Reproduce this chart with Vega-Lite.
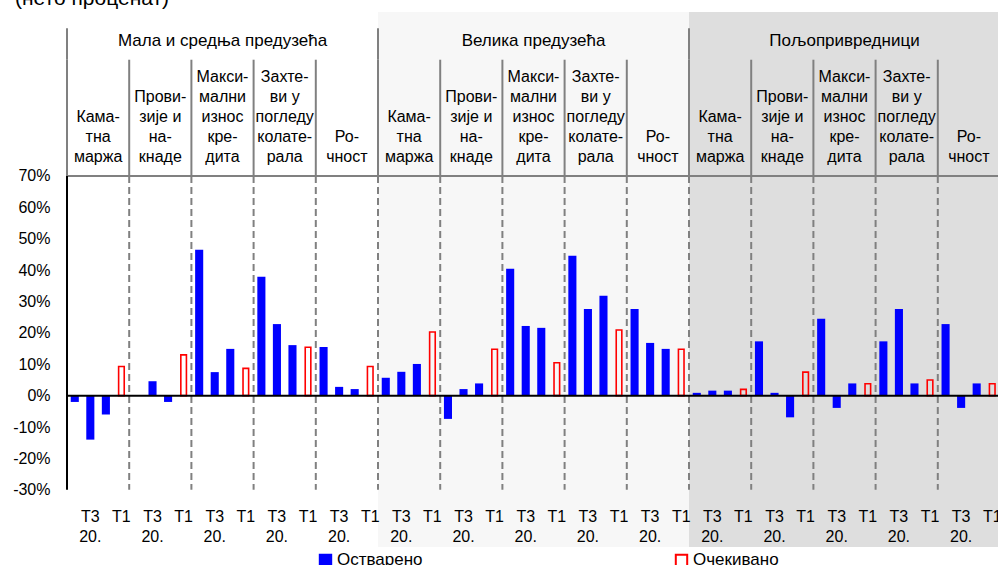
{
  "$schema": "https://vega.github.io/schema/vega-lite/v6.json",
  "width": 933,
  "height": 535,
  "autosize": {"type": "none"},
  "padding": {"left": 67, "top": 12, "right": 0, "bottom": 18},
  "background": "white",
  "title": {"text": "(нето проценат)", "anchor": "start", "frame": "group", "dx": -52, "offset": -13.5, "baseline": "alphabetic", "zindex": 1, "fontSize": 21, "font": "Liberation Sans", "fontWeight": "normal", "color": "#000000"},
  "config": {"view": {"stroke": null}, "font": "Liberation Sans"},
  "datasets": {
    "bars": [
      {"section": 1, "category": 1, "slot": 1, "key": "1-1-1", "type": "Остварено", "period": "", "value": -2},
      {"section": 1, "category": 1, "slot": 2, "key": "1-1-2", "type": "Остварено", "period": "Т3\n20.", "value": -14},
      {"section": 1, "category": 1, "slot": 3, "key": "1-1-3", "type": "Остварено", "period": "", "value": -6},
      {"section": 1, "category": 1, "slot": 4, "key": "1-1-4", "type": "Очекивано", "period": "Т1", "value": 9.3},
      {"section": 1, "category": 2, "slot": 1, "key": "1-2-1", "type": "Остварено", "period": "", "value": 0},
      {"section": 1, "category": 2, "slot": 2, "key": "1-2-2", "type": "Остварено", "period": "Т3\n20.", "value": 4.6},
      {"section": 1, "category": 2, "slot": 3, "key": "1-2-3", "type": "Остварено", "period": "", "value": -2},
      {"section": 1, "category": 2, "slot": 4, "key": "1-2-4", "type": "Очекивано", "period": "Т1", "value": 13},
      {"section": 1, "category": 3, "slot": 1, "key": "1-3-1", "type": "Остварено", "period": "", "value": 46.5},
      {"section": 1, "category": 3, "slot": 2, "key": "1-3-2", "type": "Остварено", "period": "Т3\n20.", "value": 7.5},
      {"section": 1, "category": 3, "slot": 3, "key": "1-3-3", "type": "Остварено", "period": "", "value": 14.9},
      {"section": 1, "category": 3, "slot": 4, "key": "1-3-4", "type": "Очекивано", "period": "Т1", "value": 8.7},
      {"section": 1, "category": 4, "slot": 1, "key": "1-4-1", "type": "Остварено", "period": "", "value": 37.9},
      {"section": 1, "category": 4, "slot": 2, "key": "1-4-2", "type": "Остварено", "period": "Т3\n20.", "value": 22.8},
      {"section": 1, "category": 4, "slot": 3, "key": "1-4-3", "type": "Остварено", "period": "", "value": 16.1},
      {"section": 1, "category": 4, "slot": 4, "key": "1-4-4", "type": "Очекивано", "period": "Т1", "value": 15.4},
      {"section": 1, "category": 5, "slot": 1, "key": "1-5-1", "type": "Остварено", "period": "", "value": 15.5},
      {"section": 1, "category": 5, "slot": 2, "key": "1-5-2", "type": "Остварено", "period": "Т3\n20.", "value": 2.8},
      {"section": 1, "category": 5, "slot": 3, "key": "1-5-3", "type": "Остварено", "period": "", "value": 2.1},
      {"section": 1, "category": 5, "slot": 4, "key": "1-5-4", "type": "Очекивано", "period": "Т1", "value": 9.3},
      {"section": 2, "category": 1, "slot": 1, "key": "2-1-1", "type": "Остварено", "period": "", "value": 5.7},
      {"section": 2, "category": 1, "slot": 2, "key": "2-1-2", "type": "Остварено", "period": "Т3\n20.", "value": 7.6},
      {"section": 2, "category": 1, "slot": 3, "key": "2-1-3", "type": "Остварено", "period": "", "value": 10.1},
      {"section": 2, "category": 1, "slot": 4, "key": "2-1-4", "type": "Очекивано", "period": "Т1", "value": 20.3},
      {"section": 2, "category": 2, "slot": 1, "key": "2-2-1", "type": "Остварено", "period": "", "value": -7.4},
      {"section": 2, "category": 2, "slot": 2, "key": "2-2-2", "type": "Остварено", "period": "Т3\n20.", "value": 2.1},
      {"section": 2, "category": 2, "slot": 3, "key": "2-2-3", "type": "Остварено", "period": "", "value": 3.9},
      {"section": 2, "category": 2, "slot": 4, "key": "2-2-4", "type": "Очекивано", "period": "Т1", "value": 14.8},
      {"section": 2, "category": 3, "slot": 1, "key": "2-3-1", "type": "Остварено", "period": "", "value": 40.4},
      {"section": 2, "category": 3, "slot": 2, "key": "2-3-2", "type": "Остварено", "period": "Т3\n20.", "value": 22.2},
      {"section": 2, "category": 3, "slot": 3, "key": "2-3-3", "type": "Остварено", "period": "", "value": 21.6},
      {"section": 2, "category": 3, "slot": 4, "key": "2-3-4", "type": "Очекивано", "period": "Т1", "value": 10.5},
      {"section": 2, "category": 4, "slot": 1, "key": "2-4-1", "type": "Остварено", "period": "", "value": 44.6},
      {"section": 2, "category": 4, "slot": 2, "key": "2-4-2", "type": "Остварено", "period": "Т3\n20.", "value": 27.6},
      {"section": 2, "category": 4, "slot": 3, "key": "2-4-3", "type": "Остварено", "period": "", "value": 31.8},
      {"section": 2, "category": 4, "slot": 4, "key": "2-4-4", "type": "Очекивано", "period": "Т1", "value": 20.9},
      {"section": 2, "category": 5, "slot": 1, "key": "2-5-1", "type": "Остварено", "period": "", "value": 27.6},
      {"section": 2, "category": 5, "slot": 2, "key": "2-5-2", "type": "Остварено", "period": "Т3\n20.", "value": 16.8},
      {"section": 2, "category": 5, "slot": 3, "key": "2-5-3", "type": "Остварено", "period": "", "value": 14.9},
      {"section": 2, "category": 5, "slot": 4, "key": "2-5-4", "type": "Очекивано", "period": "Т1", "value": 14.8},
      {"section": 3, "category": 1, "slot": 1, "key": "3-1-1", "type": "Остварено", "period": "", "value": 0.9},
      {"section": 3, "category": 1, "slot": 2, "key": "3-1-2", "type": "Остварено", "period": "Т3\n20.", "value": 1.6},
      {"section": 3, "category": 1, "slot": 3, "key": "3-1-3", "type": "Остварено", "period": "", "value": 1.6},
      {"section": 3, "category": 1, "slot": 4, "key": "3-1-4", "type": "Очекивано", "period": "Т1", "value": 2},
      {"section": 3, "category": 2, "slot": 1, "key": "3-2-1", "type": "Остварено", "period": "", "value": 17.3},
      {"section": 3, "category": 2, "slot": 2, "key": "3-2-2", "type": "Остварено", "period": "Т3\n20.", "value": 0.9},
      {"section": 3, "category": 2, "slot": 3, "key": "3-2-3", "type": "Остварено", "period": "", "value": -6.9},
      {"section": 3, "category": 2, "slot": 4, "key": "3-2-4", "type": "Очекивано", "period": "Т1", "value": 7.5},
      {"section": 3, "category": 3, "slot": 1, "key": "3-3-1", "type": "Остварено", "period": "", "value": 24.5},
      {"section": 3, "category": 3, "slot": 2, "key": "3-3-2", "type": "Остварено", "period": "Т3\n20.", "value": -3.9},
      {"section": 3, "category": 3, "slot": 3, "key": "3-3-3", "type": "Остварено", "period": "", "value": 3.9},
      {"section": 3, "category": 3, "slot": 4, "key": "3-3-4", "type": "Очекивано", "period": "Т1", "value": 3.8},
      {"section": 3, "category": 4, "slot": 1, "key": "3-4-1", "type": "Остварено", "period": "", "value": 17.3},
      {"section": 3, "category": 4, "slot": 2, "key": "3-4-2", "type": "Остварено", "period": "Т3\n20.", "value": 27.6},
      {"section": 3, "category": 4, "slot": 3, "key": "3-4-3", "type": "Остварено", "period": "", "value": 3.9},
      {"section": 3, "category": 4, "slot": 4, "key": "3-4-4", "type": "Очекивано", "period": "Т1", "value": 5},
      {"section": 3, "category": 5, "slot": 1, "key": "3-5-1", "type": "Остварено", "period": "", "value": 22.8},
      {"section": 3, "category": 5, "slot": 2, "key": "3-5-2", "type": "Остварено", "period": "Т3\n20.", "value": -3.9},
      {"section": 3, "category": 5, "slot": 3, "key": "3-5-3", "type": "Остварено", "period": "", "value": 3.9},
      {"section": 3, "category": 5, "slot": 4, "key": "3-5-4", "type": "Очекивано", "period": "Т1", "value": 3.8}
    ],
    "secs": [
      {"sec": "Мала и средња предузећа", "k1": "1-1-1", "k2": "1-5-4"},
      {"sec": "Велика предузећа", "k1": "2-1-1", "k2": "2-5-4"},
      {"sec": "Пољопривредници", "k1": "3-1-1", "k2": "3-5-4"}
    ],
    "hdr": [
      {"level": "sec", "cat": 0, "key": "1-3-2", "text": "Мала и средња предузећа"},
      {"level": "sec", "cat": 0, "key": "2-3-2", "text": "Велика предузећа"},
      {"level": "sec", "cat": 0, "key": "3-3-2", "text": "Пољопривредници"},
      {"level": "cat", "cat": 1, "key": "1-1-2", "text": "Кама-\nтна\nмаржа"},
      {"level": "cat", "cat": 2, "key": "1-2-2", "text": "Прови-\nзије и\nна-\nкнаде"},
      {"level": "cat", "cat": 3, "key": "1-3-2", "text": "Макси-\nмални\nизнос\nкре-\nдита"},
      {"level": "cat", "cat": 4, "key": "1-4-2", "text": "Захте-\nви у\nпогледу\nколате-\nрала"},
      {"level": "cat", "cat": 5, "key": "1-5-2", "text": "Ро-\nчност"},
      {"level": "cat", "cat": 1, "key": "2-1-2", "text": "Кама-\nтна\nмаржа"},
      {"level": "cat", "cat": 2, "key": "2-2-2", "text": "Прови-\nзије и\nна-\nкнаде"},
      {"level": "cat", "cat": 3, "key": "2-3-2", "text": "Макси-\nмални\nизнос\nкре-\nдита"},
      {"level": "cat", "cat": 4, "key": "2-4-2", "text": "Захте-\nви у\nпогледу\nколате-\nрала"},
      {"level": "cat", "cat": 5, "key": "2-5-2", "text": "Ро-\nчност"},
      {"level": "cat", "cat": 1, "key": "3-1-2", "text": "Кама-\nтна\nмаржа"},
      {"level": "cat", "cat": 2, "key": "3-2-2", "text": "Прови-\nзије и\nна-\nкнаде"},
      {"level": "cat", "cat": 3, "key": "3-3-2", "text": "Макси-\nмални\nизнос\nкре-\nдита"},
      {"level": "cat", "cat": 4, "key": "3-4-2", "text": "Захте-\nви у\nпогледу\nколате-\nрала"},
      {"level": "cat", "cat": 5, "key": "3-5-2", "text": "Ро-\nчност"}
    ]
  },
  "layer": [
    {
      "data": {"name": "secs"},
      "mark": {"type": "rect"},
      "encoding": {
        "x": {"field": "k1", "type": "nominal", "bandPosition": 0, "scale": {"type": "band", "paddingInner": 0, "paddingOuter": 0}, "axis": null},
        "x2": {"field": "k2", "bandPosition": 1},
        "y": {"datum": 122.2, "type": "quantitative", "scale": {"domain": [-48.2, 122.2], "nice": false, "zero": false}, "axis": {"values": [-30, -20, -10, 0, 10, 20, 30, 40, 50, 60, 70], "labelExpr": "datum.value + '%'", "ticks": false, "domain": false, "grid": false, "title": null, "labelFontSize": 16, "labelPadding": 17, "labelColor": "#000000", "labelFont": "Liberation Sans"}},
        "y2": {"datum": -48.2},
        "color": {"field": "sec", "type": "nominal", "scale": {"domain": ["Мала и средња предузећа", "Велика предузећа", "Пољопривредници"], "range": ["#ffffff", "#f7f7f7", "#dedede"]}, "legend": null}
      }
    },
    {
      "data": {"name": "bars"},
      "transform": [{"filter": "datum.slot === 1 && datum.key !== '1-1-1'"}],
      "mark": {"type": "rule", "color": "#808080", "strokeWidth": 2, "strokeDash": [7, 4]},
      "encoding": {
        "x": {"field": "key", "type": "nominal", "bandPosition": 0, "scale": {"type": "band"}},
        "y": {"datum": 70},
        "y2": {"datum": -30}
      }
    },
    {
      "data": {"name": "bars"},
      "transform": [{"filter": "datum.slot === 1"}],
      "mark": {"type": "rule", "color": "#808080", "strokeWidth": 2},
      "encoding": {
        "x": {"field": "key", "type": "nominal", "bandPosition": 0, "scale": {"type": "band"}},
        "y": {"datum": 107},
        "y2": {"datum": 70}
      }
    },
    {
      "data": {"name": "bars"},
      "transform": [{"filter": "datum.slot === 1 && datum.category === 1"}],
      "mark": {"type": "rule", "color": "#808080", "strokeWidth": 2},
      "encoding": {
        "x": {"field": "key", "type": "nominal", "bandPosition": 0, "scale": {"type": "band"}},
        "y": {"datum": 117},
        "y2": {"datum": 107}
      }
    },
    {
      "data": {"values": [{}]},
      "mark": {"type": "rule", "color": "#808080", "strokeWidth": 2},
      "encoding": {"y": {"datum": 70}}
    },
    {
      "data": {"name": "bars"},
      "transform": [{"filter": "datum.type === 'Остварено'"}],
      "mark": {"type": "bar", "width": {"band": 0.52}, "strokeWidth": 0},
      "encoding": {
        "x": {"field": "key", "type": "nominal", "scale": {"type": "band"}},
        "y": {"field": "value", "type": "quantitative"},
        "y2": {"datum": 0},
        "fill": {"field": "type", "type": "nominal", "scale": {"domain": ["Остварено", "Очекивано"], "range": ["#0000ff", "transparent"]}, "legend": {"orient": "none", "legendX": 250, "legendY": 539.5, "direction": "horizontal", "title": null, "symbolType": "square", "symbolSize": 130, "symbolStrokeWidth": 2, "labelFontSize": 17, "labelFont": "Liberation Sans", "labelColor": "#000000", "columnPadding": 248, "padding": 0, "labelOffset": 3}},
        "stroke": {"field": "type", "type": "nominal", "scale": {"domain": ["Остварено", "Очекивано"], "range": ["#0000ff", "#ff0000"]}, "legend": {"orient": "none", "legendX": 250, "legendY": 539.5, "direction": "horizontal", "title": null, "symbolType": "square", "symbolSize": 130, "symbolStrokeWidth": 2, "labelFontSize": 17, "labelFont": "Liberation Sans", "labelColor": "#000000", "columnPadding": 248, "padding": 0, "labelOffset": 3}}
      }
    },
    {
      "data": {"name": "bars"},
      "transform": [{"filter": "datum.type === 'Очекивано'"}],
      "mark": {"type": "bar", "width": {"band": 0.36}, "strokeWidth": 1.6},
      "encoding": {
        "x": {"field": "key", "type": "nominal", "scale": {"type": "band"}},
        "y": {"field": "value", "type": "quantitative"},
        "y2": {"datum": 0},
        "fill": {"field": "type", "type": "nominal"},
        "stroke": {"field": "type", "type": "nominal"}
      }
    },
    {
      "data": {"values": [{}]},
      "mark": {"type": "rule", "color": "#000000", "strokeWidth": 2},
      "encoding": {"y": {"datum": 0}}
    },
    {
      "data": {"name": "bars"},
      "transform": [{"filter": "datum.key === '1-1-1'"}],
      "mark": {"type": "rule", "color": "#000000", "strokeWidth": 2},
      "encoding": {
        "x": {"field": "key", "type": "nominal", "bandPosition": 0, "scale": {"type": "band"}},
        "y": {"datum": 70},
        "y2": {"datum": -30}
      }
    },
    {
      "data": {"name": "hdr"},
      "transform": [{"filter": "datum.cat === 3 || datum.cat === 4"}],
      "mark": {"type": "text", "lineBreak": "\n", "lineHeight": 20, "fontSize": 16, "baseline": "top", "align": "center", "font": "Liberation Sans", "color": "#000000"},
      "encoding": {
        "x": {"field": "key", "type": "nominal", "bandPosition": 1, "scale": {"type": "band"}},
        "y": {"datum": 104.05},
        "text": {"field": "text"}
      }
    },
    {
      "data": {"name": "hdr"},
      "transform": [{"filter": "datum.cat === 2"}],
      "mark": {"type": "text", "lineBreak": "\n", "lineHeight": 20, "fontSize": 16, "baseline": "top", "align": "center", "font": "Liberation Sans", "color": "#000000"},
      "encoding": {
        "x": {"field": "key", "type": "nominal", "bandPosition": 1, "scale": {"type": "band"}},
        "y": {"datum": 97.68},
        "text": {"field": "text"}
      }
    },
    {
      "data": {"name": "hdr"},
      "transform": [{"filter": "datum.cat === 1"}],
      "mark": {"type": "text", "lineBreak": "\n", "lineHeight": 20, "fontSize": 16, "baseline": "top", "align": "center", "font": "Liberation Sans", "color": "#000000"},
      "encoding": {
        "x": {"field": "key", "type": "nominal", "bandPosition": 1, "scale": {"type": "band"}},
        "y": {"datum": 91.31},
        "text": {"field": "text"}
      }
    },
    {
      "data": {"name": "hdr"},
      "transform": [{"filter": "datum.cat === 5"}],
      "mark": {"type": "text", "lineBreak": "\n", "lineHeight": 20, "fontSize": 16, "baseline": "top", "align": "center", "font": "Liberation Sans", "color": "#000000"},
      "encoding": {
        "x": {"field": "key", "type": "nominal", "bandPosition": 1, "scale": {"type": "band"}},
        "y": {"datum": 84.94},
        "text": {"field": "text"}
      }
    },
    {
      "data": {"name": "hdr"},
      "transform": [{"filter": "datum.level === 'sec'"}],
      "mark": {"type": "text", "fontSize": 17, "baseline": "middle", "align": "center", "font": "Liberation Sans", "color": "#000000"},
      "encoding": {
        "x": {"field": "key", "type": "nominal", "bandPosition": 1, "scale": {"type": "band"}},
        "y": {"datum": 113},
        "text": {"field": "text"}
      }
    },
    {
      "data": {"name": "bars"},
      "transform": [{"filter": "datum.period !== ''"}],
      "mark": {"type": "text", "lineBreak": "\n", "lineHeight": 20, "fontSize": 16, "baseline": "top", "align": "center", "font": "Liberation Sans", "color": "#000000"},
      "encoding": {
        "x": {"field": "key", "type": "nominal", "scale": {"type": "band"}},
        "y": {"datum": -36},
        "text": {"field": "period"}
      }
    }
  ]
}
